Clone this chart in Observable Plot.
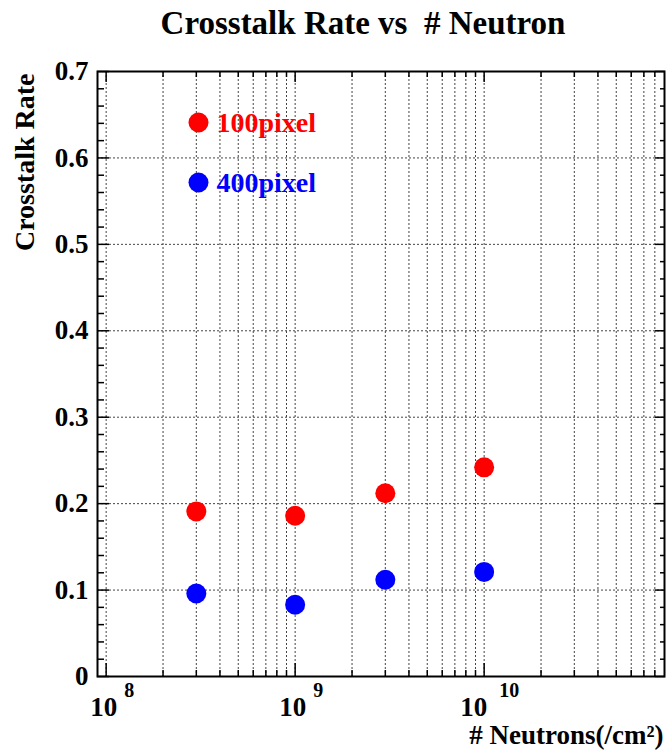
<!DOCTYPE html>
<html>
<head>
<meta charset="utf-8">
<script src="https://cdn.jsdelivr.net/npm/d3@7"></script>
<script src="https://cdn.jsdelivr.net/npm/@observablehq/plot@0.6"></script>
<style>
  html, body { margin: 0; padding: 0; background: #fff; }
  svg { display: block; }
</style>
</head>
<body>
<div id="chart"></div>
<script>
// ---- data ----
const title = "Crosstalk Rate vs\u00a0 # Neutron";
const xLabel = "# Neutrons(/cm\u00b2)";
const yLabel = "Crosstalk Rate";
const seriesNames = ["100pixel", "400pixel"];
const seriesColors = ["#ff0000", "#0000ff"];
const neutrons = [3e8, 1e9, 3e9, 1e10];
const rate100 = [0.191, 0.186, 0.212, 0.242];
const rate400 = [0.096, 0.083, 0.112, 0.121];
const xMajor = [1e8, 1e9, 1e10];
const xExponents = ["8", "9", "10"];
const yMajor = [0, 0.1, 0.2, 0.3, 0.4, 0.5, 0.6, 0.7];
const yTickLabels = ["0", "0.1", "0.2", "0.3", "0.4", "0.5", "0.6", "0.7"];

const xDomain = [9e7, 9e10];
const yDomain = [0, 0.7];

// ---- derived ----
const points = [];
neutrons.forEach((n, i) => {
  points.push({x: n, y: rate100[i], s: seriesNames[0]});
  points.push({x: n, y: rate400[i], s: seriesNames[1]});
});
const xMinor = [];
for (let e = 7; e <= 10; e++) for (let k = 2; k <= 9; k++) {
  const v = k * Math.pow(10, e);
  if (v > xDomain[0] && v < xDomain[1]) xMinor.push(v);
}
const xGrid = [...xMajor, ...xMinor];
const yMinor = d3.range(1, 35).map(i => +(i * 0.02).toFixed(2)).filter(v => Math.abs(v * 10 - Math.round(v * 10)) > 1e-6);
const yGrid = yMajor.filter(v => v > 0 && v < 0.7);

const font = "Liberation Serif, Times New Roman, serif";
const dash = "2,2";
const gridColor = "#444";

// x tick labels "10" with superscript exponent (one mark pair per tick so offsets can differ)
const xTickLabelMarks = xMajor.flatMap((v, i) => {
  const wide = xExponents[i].length > 1;
  return [
    Plot.text([v], {x: (d) => d, text: () => "10", frameAnchor: "bottom", textAnchor: "end",
      lineAnchor: "bottom", fontSize: 27, dy: 39, dx: wide ? 3 : 11, fill: "#000"}),
    Plot.text([v], {x: (d) => d, text: () => xExponents[i], frameAnchor: "bottom", textAnchor: "start",
      lineAnchor: "bottom", fontSize: 20, dy: 20, dx: wide ? 15 : 18, fill: "#000"})
  ];
});

// legend entries
const legendMarks = seriesNames.flatMap((name, i) => [
  Plot.dot([name], {frameAnchor: "top-left", dx: 101, dy: 51 + 60 * i, fill: seriesColors[i], r: 10}),
  Plot.text([name], {frameAnchor: "top-left", text: (d) => d, fill: seriesColors[i], textAnchor: "start",
    lineAnchor: "bottom", fontSize: 28, dx: 119, dy: 60 + 60 * i})
]);

const chart = Plot.plot({
  width: 666,
  height: 753,
  marginTop: 71,
  marginBottom: 77,
  marginLeft: 97,
  marginRight: 2,
  style: {fontFamily: font, fontWeight: "bold", background: "#fff"},
  x: {type: "log", domain: xDomain, axis: null},
  y: {domain: yDomain, axis: null},
  color: {domain: seriesNames, range: seriesColors},
  marks: [
    Plot.ruleX(xGrid, {stroke: gridColor, strokeDasharray: dash, strokeWidth: 1}),
    Plot.ruleY(yGrid, {stroke: gridColor, strokeDasharray: dash, strokeWidth: 1}),
    // inner ticks
    Plot.axisY(yMajor, {anchor: "left", tickSize: -12, tickFormat: () => "", strokeWidth: 1.5, label: null}),
    Plot.axisY(yMinor, {anchor: "left", tickSize: -7, tickFormat: () => "", strokeWidth: 1.5, label: null}),
    Plot.axisY(yMajor, {anchor: "right", tickSize: -10, tickFormat: () => "", strokeWidth: 1.5, label: null}),
    Plot.axisY(yMinor, {anchor: "right", tickSize: -5, tickFormat: () => "", strokeWidth: 1.5, label: null}),
    Plot.axisX(xMajor, {anchor: "bottom", tickSize: -13, tickFormat: () => "", strokeWidth: 1.5, label: null}),
    Plot.axisX(xMinor, {anchor: "bottom", tickSize: -6, tickFormat: () => "", strokeWidth: 1.5, label: null}),
    Plot.axisX(xMajor, {anchor: "top", tickSize: -10, tickFormat: () => "", strokeWidth: 1.5, label: null}),
    Plot.axisX(xMinor, {anchor: "top", tickSize: -5, tickFormat: () => "", strokeWidth: 1.5, label: null}),
    // y tick labels
    Plot.axisY(yMajor, {anchor: "left", tickSize: 0, tickPadding: 9, fontSize: 27,
      tickFormat: (d) => yTickLabels[yMajor.indexOf(d)], label: null, fill: "#000"}),
    ...xTickLabelMarks,
    // data
    Plot.dot(points, {x: "x", y: "y", fill: "s", r: 10}),
    // frame
    Plot.frame({stroke: "#000", strokeWidth: 2}),
    ...legendMarks,
    // title and axis labels
    Plot.text([title], {frameAnchor: "top", text: (d) => d, lineAnchor: "bottom", fontSize: 33, dy: -38, dx: -18, fill: "#000"}),
    Plot.text([xLabel], {frameAnchor: "bottom-right", text: (d) => d, textAnchor: "end", lineAnchor: "bottom", fontSize: 27, dy: 67, dx: -1, fill: "#000"}),
    Plot.text([yLabel], {frameAnchor: "top-left", text: (d) => d, textAnchor: "end", lineAnchor: "bottom", rotate: -90, fontSize: 28, dx: -64, dy: 2, fill: "#000"})
  ]
});
document.getElementById("chart").appendChild(chart);
</script>
</body>
</html>
